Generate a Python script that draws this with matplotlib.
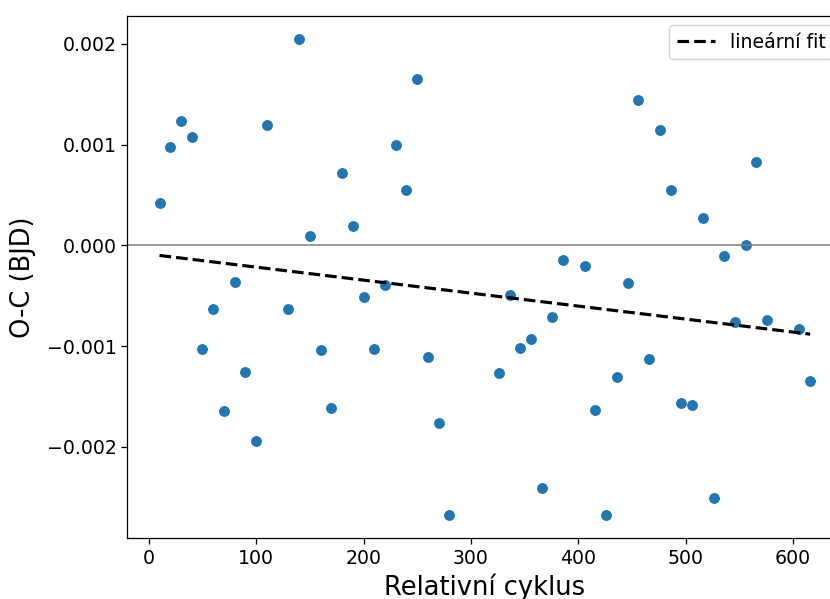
import numpy as np
import matplotlib
matplotlib.use("Agg")
import matplotlib.pyplot as plt

cycles = [10, 20, 30, 40, 50, 60, 70, 80, 90, 100, 110, 130, 140, 150, 160,
          170, 180, 190, 200, 210, 220, 230, 240, 250, 260, 270, 280,
          326, 336, 346, 356, 366, 376, 386, 406, 416, 426, 436, 446, 456,
          466, 476, 486, 496, 506, 516, 526, 536, 546, 556, 566, 576, 606, 616]
oc = [0.000417, 0.000978, 0.001233, 0.001077, -0.001029, -0.000635, -0.001643,
      -0.000361, -0.001254, -0.001944, 0.001196, -0.000635, 0.002044, 0.000089,
      -0.001042, -0.001611, 0.000717, 0.000194, -0.000513, -0.001029, -0.000394,
      0.000998, 0.000546, 0.00165, -0.001108, -0.00176, -0.002672,
      -0.00127, -0.00049, -0.001015, -0.000926, -0.002408, -0.000714, -0.000143,
      -0.000202, -0.001631, -0.002672, -0.00131, -0.000371, 0.001438,
      -0.001125, 0.001141, 0.000546, -0.001561, -0.001584, 0.000271, -0.00251,
      -0.000106, -0.000758, 0.000006, 0.000826, -0.000741, -0.000827, -0.001349]

x = np.array(cycles, dtype=float)
y = np.array(oc)
coef = np.polyfit(x, y, 1)
xf = np.array([x.min(), x.max()])
yf = np.polyval(coef, xf)

sc = 1.133
fig = plt.figure(figsize=(8.30, 5.99), dpi=100)
ax = fig.add_axes([0.153, 0.1012, 1.0153 - 0.153, 0.974 - 0.1012])
ax.axhline(0, color="gray", linewidth=1 * sc)
ax.scatter(x, y, s=36 * sc * sc, color="#1f77b4")
ax.plot(xf, yf, "k--", linewidth=2 * sc, label="lineární fit")
ax.set_xlabel("Relativní cyklus", fontsize=18.5, labelpad=4.5)
ax.set_ylabel("O-C (BJD)", fontsize=18.5, labelpad=8)
ax.tick_params(labelsize=12 * sc, length=3.5 * sc, width=0.8 * sc)
for s in ax.spines.values():
    s.set_linewidth(0.8 * sc)
ax.legend(loc="upper right", fontsize=12 * sc)
fig.savefig("out.png", dpi=100)
